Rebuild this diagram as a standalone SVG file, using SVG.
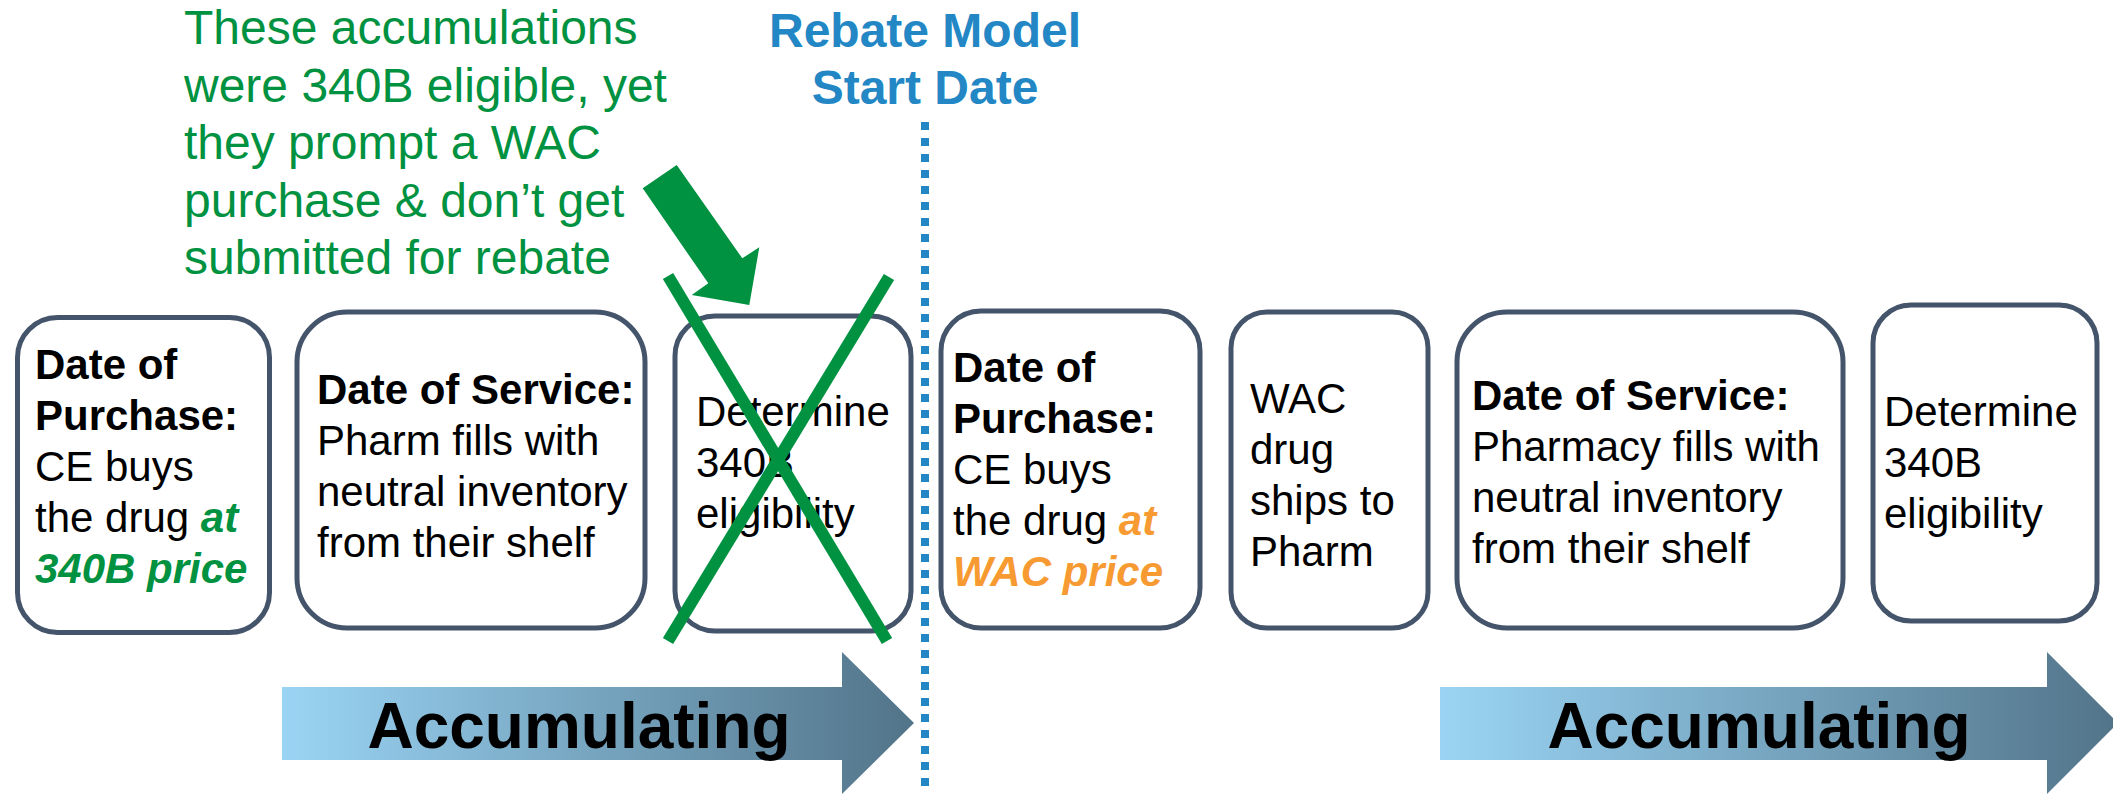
<svg xmlns="http://www.w3.org/2000/svg" width="2113" height="794" viewBox="0 0 2113 794">
<defs>
<style>
.box{fill:#fff;stroke:#44546A;stroke-width:5}
.t{font-family:"Liberation Sans",Arial,sans-serif;font-size:42px;fill:#000}
.b{font-weight:bold}
.g{fill:#009241;font-weight:bold;font-style:italic}
.o{fill:#F79A32;font-weight:bold;font-style:italic}
.note{font-family:"Liberation Sans",Arial,sans-serif;font-size:48px;fill:#009241}
.head{font-family:"Liberation Sans",Arial,sans-serif;font-size:48px;font-weight:bold;fill:#2287C4}
.acc{font-family:"Liberation Sans",Arial,sans-serif;font-size:64px;font-weight:bold;fill:#000}
.x{stroke:#009241;stroke-width:12;fill:none}
</style>
<linearGradient id="ag" x1="0" y1="0" x2="1" y2="0">
<stop offset="0" stop-color="#9AD4F4"/>
<stop offset="1" stop-color="#527489"/>
</linearGradient>
</defs>
<rect width="2113" height="794" fill="#fff"/>

<g id="note">
<text class="note" x="184"><tspan x="184" y="44">These accumulations</tspan><tspan x="184" y="101.5">were 340B eligible, yet</tspan><tspan x="184" y="159">they prompt a WAC</tspan><tspan x="184" y="216.5">purchase &amp; don’t get</tspan><tspan x="184" y="274">submitted for rebate</tspan></text>
</g>

<g id="start-date">
<text class="head" text-anchor="middle"><tspan x="925" y="47">Rebate Model</tspan><tspan x="925" y="104">Start Date</tspan></text>
<line x1="925" y1="122" x2="925" y2="794" stroke="#2287C4" stroke-width="8" stroke-dasharray="8 8"/>
</g>

<g id="accumulating-1">
<polygon points="282,687 842,687 842,652 914,723 842,794 842,760 282,760" fill="url(#ag)"/>
<text class="acc" x="579" y="748" text-anchor="middle">Accumulating</text>
</g>
<g id="accumulating-2">
<polygon points="1440,687 2047,687 2047,652 2118,723 2047,794 2047,760 1440,760" fill="url(#ag)"/>
<text class="acc" x="1759" y="748" text-anchor="middle">Accumulating</text>
</g>

<g id="box1">
<rect class="box" x="17.5" y="317.5" width="252" height="315" rx="40"/>
<text class="t"><tspan class="b" x="35" y="379">Date of</tspan><tspan class="b" x="35" y="430">Purchase:</tspan><tspan x="35" y="481">CE buys</tspan><tspan x="35" y="532">the drug <tspan class="g">at</tspan></tspan><tspan class="g" x="35" y="583">340B price</tspan></text>
</g>

<g id="box2">
<rect class="box" x="297" y="312" width="348" height="316" rx="50"/>
<text class="t"><tspan class="b" x="317" y="404">Date of Service:</tspan><tspan x="317" y="455">Pharm fills with</tspan><tspan x="317" y="506">neutral inventory</tspan><tspan x="317" y="557">from their shelf</tspan></text>
</g>

<g id="box3">
<rect class="box" x="675" y="316" width="236" height="315" rx="40"/>
<text class="t"><tspan x="696" y="426">Determine</tspan><tspan x="696" y="477">340B</tspan><tspan x="696" y="528">eligibility</tspan></text>
</g>

<g id="box4">
<rect class="box" x="941" y="311" width="259" height="317" rx="40"/>
<text class="t"><tspan class="b" x="953" y="382">Date of</tspan><tspan class="b" x="953" y="433">Purchase:</tspan><tspan x="953" y="484">CE buys</tspan><tspan x="953" y="535">the drug <tspan class="o">at</tspan></tspan><tspan class="o" x="953" y="586">WAC price</tspan></text>
</g>

<g id="box5">
<rect class="box" x="1231" y="312" width="197" height="316" rx="36"/>
<text class="t"><tspan x="1250" y="413">WAC</tspan><tspan x="1250" y="464">drug</tspan><tspan x="1250" y="515">ships to</tspan><tspan x="1250" y="566">Pharm</tspan></text>
</g>

<g id="box6">
<rect class="box" x="1457" y="312" width="386" height="316" rx="50"/>
<text class="t"><tspan class="b" x="1472" y="410">Date of Service:</tspan><tspan x="1472" y="461">Pharmacy fills with</tspan><tspan x="1472" y="512">neutral inventory</tspan><tspan x="1472" y="563">from their shelf</tspan></text>
</g>

<g id="box7">
<rect class="box" x="1873" y="305" width="224" height="316" rx="38"/>
<text class="t"><tspan x="1884" y="426">Determine</tspan><tspan x="1884" y="477">340B</tspan><tspan x="1884" y="528">eligibility</tspan></text>
</g>

<g id="connectors">
<polygon points="642.7,188.3 676.7,165 742.3,258.3 759.3,247.3 749.3,305 691.7,295 708.3,283.3" fill="#009241"/>
<line class="x" x1="668" y1="276" x2="887" y2="641"/>
<line class="x" x1="889" y1="277" x2="668" y2="641"/>
</g>
</svg>
